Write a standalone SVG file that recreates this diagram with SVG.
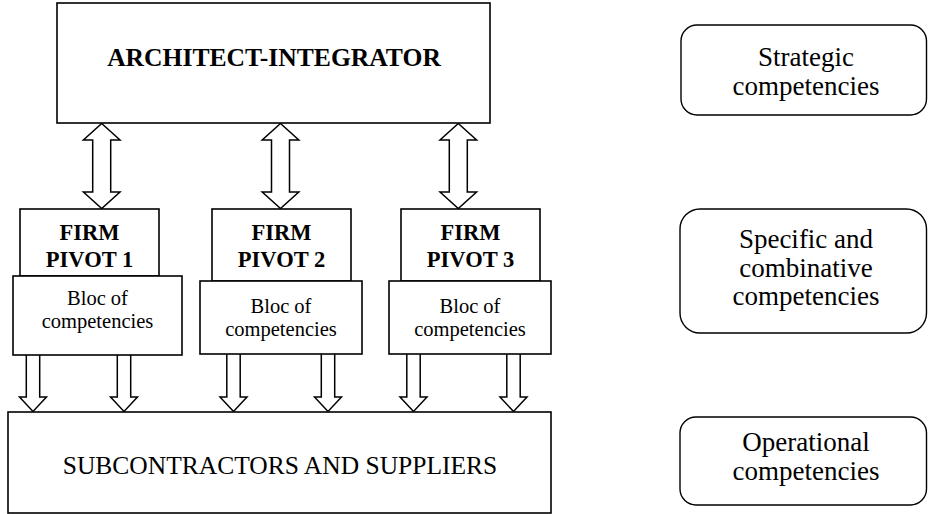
<svg xmlns="http://www.w3.org/2000/svg" width="928" height="514" viewBox="0 0 928 514">
<style>
.box{fill:#fff;stroke:#000;stroke-width:1.6}
.rbox{fill:#fff;stroke:#000;stroke-width:1.4}
.arr{fill:#fff;stroke:#000;stroke-width:1.5;stroke-linejoin:miter}
text{font-family:"Liberation Serif","Times New Roman",serif;fill:#000;text-anchor:middle}
.b{font-weight:bold}
</style>
<rect width="928" height="514" fill="#fff"/>
<g id="connectors">
<path class="arr" d="M101.7 123.5 L120 140 L110.7 140 L110.7 192 L120 192 L101.7 208.5 L83.4 192 L92.7 192 L92.7 140 L83.4 140 Z"/>
<path class="arr" d="M280.5 123.5 L298.8 140 L289.5 140 L289.5 192 L298.8 192 L280.5 208.5 L262.2 192 L271.5 192 L271.5 140 L262.2 140 Z"/>
<path class="arr" d="M458.3 123.5 L476.6 140 L467.3 140 L467.3 192 L476.6 192 L458.3 208.5 L440 192 L449.3 192 L449.3 140 L440 140 Z"/>
<path class="arr" d="M26.3 355 L26.3 397 L19.5 397 L33 411.5 L46.5 397 L39.7 397 L39.7 355"/>
<path class="arr" d="M117.3 355 L117.3 397 L110.5 397 L124 411.5 L137.5 397 L130.7 397 L130.7 355"/>
<path class="arr" d="M226.8 354 L226.8 397 L220 397 L233.5 411.5 L247 397 L240.2 397 L240.2 354"/>
<path class="arr" d="M321.3 354 L321.3 397 L314.5 397 L328 411.5 L341.5 397 L334.7 397 L334.7 354"/>
<path class="arr" d="M406.8 354 L406.8 397 L400 397 L413.5 411.5 L427 397 L420.2 397 L420.2 354"/>
<path class="arr" d="M506.8 354 L506.8 397 L500 397 L513.5 411.5 L527 397 L520.2 397 L520.2 354"/>
</g>
<g id="architect">
<rect class="box" x="57" y="3" width="433" height="120"/>
<text class="b" x="274" y="66" font-size="25.6">ARCHITECT-INTEGRATOR</text>
</g>
<g id="pivot1">
<rect class="box" x="20" y="209" width="139" height="67"/>
<text class="b" x="89.5" y="240" font-size="22.5">FIRM</text>
<text class="b" x="89.5" y="267" font-size="22.5">PIVOT 1</text>
</g>
<g id="bloc1">
<rect class="box" x="13" y="276" width="169" height="79"/>
<text x="97.5" y="305" font-size="20.5">Bloc of</text>
<text x="97.5" y="328" font-size="20.5">competencies</text>
</g>
<g id="pivot2">
<rect class="box" x="212" y="209" width="139" height="72"/>
<text class="b" x="281.5" y="240" font-size="22.5">FIRM</text>
<text class="b" x="281.5" y="267" font-size="22.5">PIVOT 2</text>
</g>
<g id="bloc2">
<rect class="box" x="200" y="281" width="162" height="73"/>
<text x="281" y="313" font-size="20.5">Bloc of</text>
<text x="281" y="336" font-size="20.5">competencies</text>
</g>
<g id="pivot3">
<rect class="box" x="401" y="209" width="139" height="72"/>
<text class="b" x="470.5" y="240" font-size="22.5">FIRM</text>
<text class="b" x="470.5" y="267" font-size="22.5">PIVOT 3</text>
</g>
<g id="bloc3">
<rect class="box" x="389" y="281" width="162" height="73"/>
<text x="470" y="313" font-size="20.5">Bloc of</text>
<text x="470" y="336" font-size="20.5">competencies</text>
</g>
<g id="subcontractors">
<rect class="box" x="8" y="412" width="543" height="101"/>
<text x="280" y="474" font-size="25.5">SUBCONTRACTORS AND SUPPLIERS</text>
</g>
<g id="strategic">
<rect class="rbox" x="681" y="25" width="245.5" height="90" rx="16"/>
<text x="806" y="66" font-size="27">Strategic</text>
<text x="806" y="95" font-size="27">competencies</text>
</g>
<g id="specific">
<rect class="rbox" x="680" y="209" width="246.5" height="124" rx="20"/>
<text x="806" y="248" font-size="27">Specific and</text>
<text x="806" y="276.5" font-size="27">combinative</text>
<text x="806" y="305" font-size="27">competencies</text>
</g>
<g id="operational">
<rect class="rbox" x="680" y="417" width="246.5" height="88" rx="16"/>
<text x="806" y="451" font-size="27">Operational</text>
<text x="806" y="480" font-size="27">competencies</text>
</g>
</svg>
